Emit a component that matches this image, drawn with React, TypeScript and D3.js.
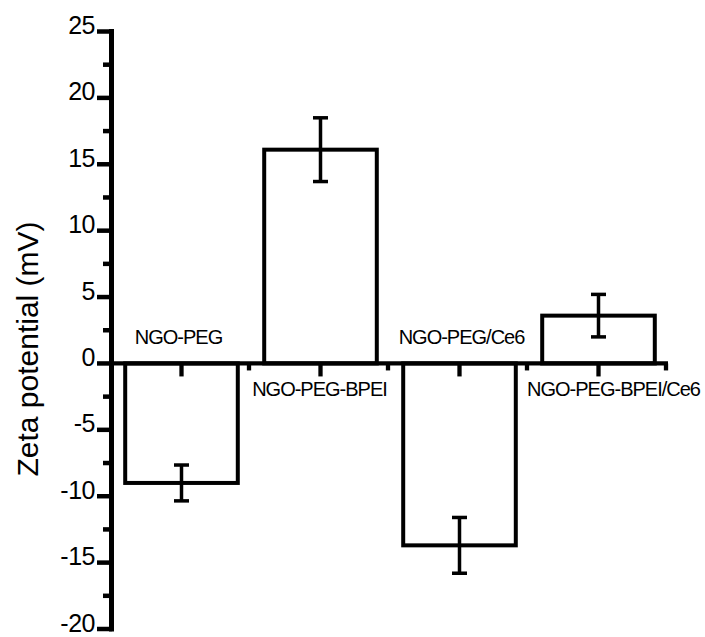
import * as d3 from 'd3';

// Zeta potential per sample, mean and error (mV)
const categories = ['NGO-PEG', 'NGO-PEG-BPEI', 'NGO-PEG/Ce6', 'NGO-PEG-BPEI/Ce6'];
const zeta = [-9.0, 16.1, -13.7, 3.6];
const zetaErr = [1.35, 2.4, 2.1, 1.6];
const yTicks = [-20, -15, -10, -5, 0, 5, 10, 15, 20, 25];

const W = 705;
const H = 637;
const FONT = '"Liberation Sans", Arial, sans-serif';

// label nudges, the original had them hand placed
const labelDx = [-3, -1, 2, 15];

export default function App() {
  const x = d3.scaleBand<string>().domain(categories).range([112, 668]).paddingInner(0.19).paddingOuter(0.095);
  const xOuter = d3.scaleBand<string>().domain(categories).range([112, 668]);
  const y = d3.scaleLinear().domain([-20, 25]).range([629, 31.5]);
  const y0 = y(0);
  const minorY = d3.range(-17.5, 25, 5);
  const boundaries = categories.slice(1).map((c) => xOuter(c)!).concat([668]);

  return (
    <svg width={W} height={H} style={{ position: 'absolute', left: 0, top: 0, background: '#fff' }} fontFamily={FONT}>
      {/* bars */}
      {categories.map((c, i) => {
        const v = zeta[i];
        const top = y(Math.max(0, v));
        const bot = y(Math.min(0, v));
        return (
          <rect key={c} x={x(c)} y={top} width={x.bandwidth()} height={bot - top}
            fill="#fff" stroke="#000" strokeWidth={4} />
        );
      })}

      {/* error bars */}
      {categories.map((c, i) => {
        const cx = x(c)! + x.bandwidth() / 2;
        const hi = y(zeta[i] + zetaErr[i]);
        const lo = y(zeta[i] - zetaErr[i]);
        return (
          <g key={c} stroke="#000" strokeWidth={3.5}>
            <line x1={cx} x2={cx} y1={hi} y2={lo} />
            <line x1={cx - 7.5} x2={cx + 7.5} y1={hi} y2={hi} />
            <line x1={cx - 7.5} x2={cx + 7.5} y1={lo} y2={lo} />
          </g>
        );
      })}

      {/* x axis along zero */}
      <line x1={112} x2={668} y1={y0} y2={y0} stroke="#000" strokeWidth={4.3} />
      {categories.map((c) => {
        const cx = xOuter(c)! + xOuter.bandwidth() / 2;
        return <line key={c} x1={cx} x2={cx} y1={y0} y2={y0 + 13} stroke="#000" strokeWidth={4.3} />;
      })}
      {boundaries.map((bx) => (
        <line key={bx} x1={bx - 2} x2={bx - 2} y1={y0} y2={y0 + 7} stroke="#000" strokeWidth={4.3} />
      ))}

      {/* category labels */}
      {categories.map((c, i) => {
        const cx = x(c)! + x.bandwidth() / 2 + labelDx[i];
        const ty = zeta[i] < 0 ? y0 - 19 : y0 + 33;
        return (
          <text key={c} x={cx} y={ty} textAnchor="middle" fontSize={20} letterSpacing={-1} fill="#000">{c}</text>
        );
      })}

      {/* y axis */}
      <line x1={111.5} x2={111.5} y1={y(25) - 2.5} y2={y(-20) + 2.5} stroke="#000" strokeWidth={5} />
      {yTicks.map((t) => (
        <g key={t}>
          <line x1={97} x2={112} y1={y(t)} y2={y(t)} stroke="#000" strokeWidth={4.5} />
          <text x={95} y={y(t)} dy="0.1em" textAnchor="end" fontSize={25} letterSpacing={-0.5} fill="#000">{t}</text>
        </g>
      ))}
      {minorY.map((t) => (
        <line key={t} x1={103} x2={112} y1={y(t)} y2={y(t)} stroke="#000" strokeWidth={4.5} />
      ))}

      <text transform={`translate(38,${349}) rotate(-90)`} textAnchor="middle" fontSize={30} fill="#000">
        Zeta potential (mV)
      </text>
    </svg>
  );
}
